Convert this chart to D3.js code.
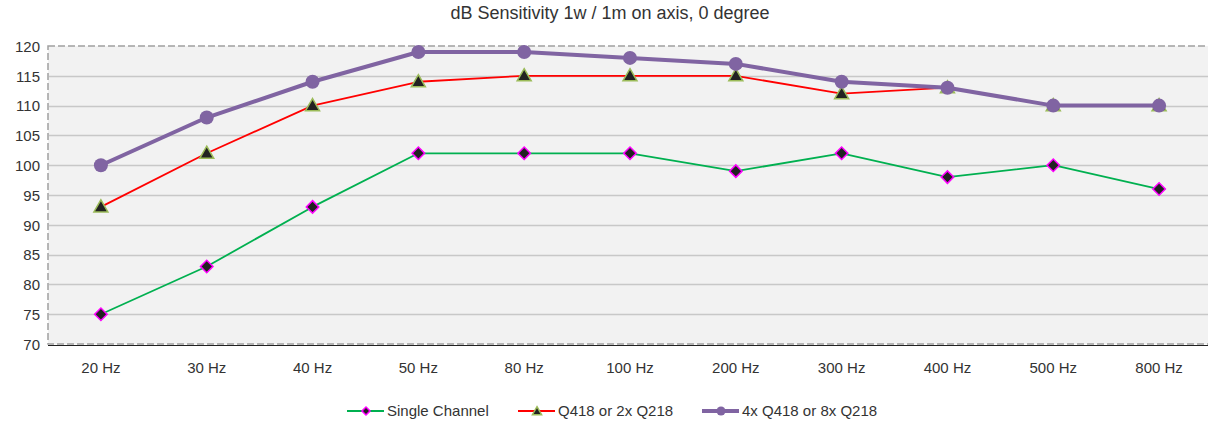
<!DOCTYPE html>
<html>
<head>
<meta charset="utf-8">
<script src="https://cdn.jsdelivr.net/npm/d3@7"></script>
<style>
  body { margin: 0; background: #fff; }
  text { font-family: "Liberation Sans", Arial, sans-serif; fill: #333; }
</style>
</head>
<body>
<svg id="chart" width="1208" height="425"></svg>
<script>
const categories = ["20 Hz", "30 Hz", "40 Hz", "50 Hz", "80 Hz", "100 Hz", "200 Hz", "300 Hz", "400 Hz", "500 Hz", "800 Hz"];
const singleChannel = [75, 83, 93, 102, 102, 102, 99, 102, 98, 100, 96];
const q418 = [93, 102, 110, 114, 115, 115, 115, 112, 113, 110, 110];
const q418x4 = [100, 108, 114, 119, 119, 118, 117, 114, 113, 110, 110];
const yTicks = [70, 75, 80, 85, 90, 95, 100, 105, 110, 115, 120];

var svg = d3.select("#chart");
var plotLeft = 48, plotRight = 1212, plotTop = 46, plotBottom = 344;

var x = d3.scaleBand().domain(categories).range([plotLeft, plotRight]);
var y = d3.scaleLinear().domain([70, 120]).range([plotBottom, plotTop]);

svg.append("text")
  .attr("x", 610).attr("y", 19)
  .attr("text-anchor", "middle")
  .style("font-size", "18px")
  .text("dB Sensitivity 1w / 1m on axis, 0 degree");

svg.append("rect")
  .attr("x", plotLeft).attr("y", plotTop)
  .attr("width", plotRight - plotLeft).attr("height", plotBottom - plotTop)
  .attr("fill", "#f2f2f2")
  .attr("stroke", "#a0a0a0").attr("stroke-dasharray", "7,3").attr("stroke-width", 1.5);

// gridlines
svg.append("g")
  .selectAll("line")
  .data(yTicks.filter((t) => t > 70 && t < 120))
  .enter()
  .append("line")
  .attr("x1", plotLeft + 1).attr("x2", plotRight)
  .attr("y1", (d) => Math.round(y(d)) + 0.5)
  .attr("y2", (d) => Math.round(y(d)) + 0.5)
  .attr("stroke", "#c8c8c8").attr("stroke-width", 1.5);

// bottom axis line
svg.append("line")
  .attr("x1", plotLeft).attr("x2", plotRight)
  .attr("y1", plotBottom + 1.5).attr("y2", plotBottom + 1.5)
  .attr("stroke", "#222").attr("stroke-width", 1);

var yAxis = svg.append("g")
  .attr("transform", "translate(" + (plotLeft - 8) + ",0)")
  .call(d3.axisLeft(y).tickValues(yTicks).tickSize(0).tickPadding(0));
yAxis.select(".domain").remove();
yAxis.selectAll("text").style("font-size", "15px").attr("fill", "#333").attr("dy", "0.35em");

var xAxis = svg.append("g")
  .attr("transform", "translate(0," + (plotBottom + 18) + ")")
  .call(d3.axisBottom(x).tickSize(0).tickPadding(0));
xAxis.select(".domain").remove();
xAxis.selectAll("text").style("font-size", "15px").attr("fill", "#333").attr("dy", "0.71em");

var cx = (d, i) => x(categories[i]) + x.bandwidth() / 2;
var line = d3.line().x((d, i) => cx(d, i)).y((d) => y(d));

var series = [
  { name: "Single Channel", values: singleChannel, color: "#00b050", width: 1.8, marker: "diamond" },
  { name: "Q418 or 2x Q218", values: q418, color: "#ff0000", width: 1.8, marker: "triangle" },
  { name: "4x Q418 or 8x Q218", values: q418x4, color: "#8064a2", width: 4, marker: "circle" },
];

function drawMarker(g, type, px, py, small) {
  var s = small ? 0.65 : 1;
  if (type === "diamond") {
    g.append("path")
      .attr("d", d3.symbol().type(d3.symbolSquare).size(78 * s * s)())
      .attr("transform", "translate(" + px + "," + py + ") rotate(45)")
      .attr("fill", "#222").attr("stroke", "#ff00ff").attr("stroke-width", 1.5);
  } else if (type === "triangle") {
    g.append("path")
      .attr("d", d3.symbol().type(d3.symbolTriangle).size(85 * s * s)())
      .attr("transform", "translate(" + px + "," + (py + 1) + ")")
      .attr("fill", "#222").attr("stroke", "#9bbb59").attr("stroke-width", 1.5);
  } else {
    g.append("circle")
      .attr("cx", px).attr("cy", py).attr("r", 7 * s)
      .attr("fill", "#8064a2");
  }
}

series.forEach(function (s) {
  var g = svg.append("g");
  g.append("path")
    .datum(s.values)
    .attr("d", line)
    .attr("fill", "none")
    .attr("stroke", s.color)
    .attr("stroke-width", s.width)
    .attr("stroke-linejoin", "round");
  s.values.forEach(function (v, i) {
    drawMarker(g, s.marker, cx(v, i), y(v), false);
  });
});

// legend
var legendX = [347, 518, 702];
series.forEach(function (s, i) {
  var g = svg.append("g");
  var lx = legendX[i], ly = 411;
  g.append("line")
    .attr("x1", lx).attr("x2", lx + 37)
    .attr("y1", ly).attr("y2", ly)
    .attr("stroke", s.color).attr("stroke-width", s.width);
  drawMarker(g, s.marker, lx + 19, ly, true);
  g.append("text")
    .attr("x", lx + 40).attr("y", ly)
    .attr("dy", "0.35em")
    .style("font-size", "15px")
    .text(s.name);
});
</script>
</body>
</html>
